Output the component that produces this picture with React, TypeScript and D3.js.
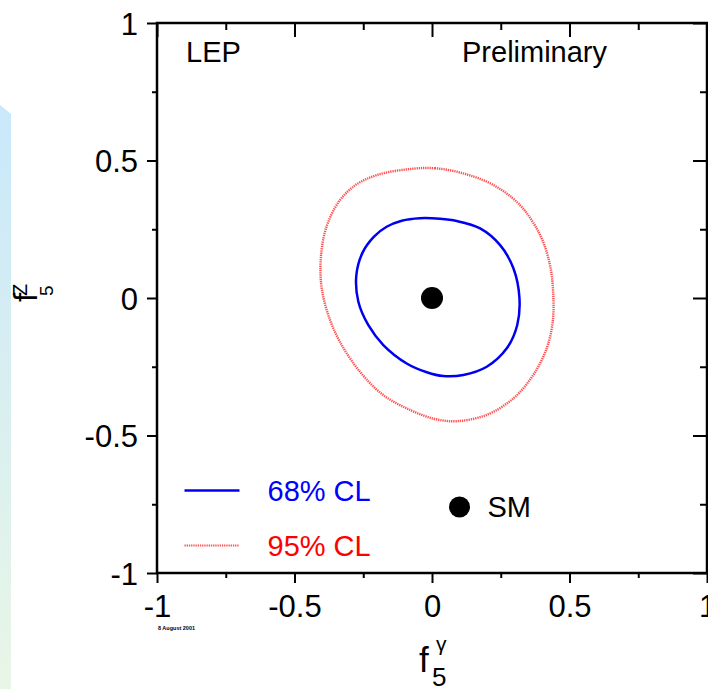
import React, { useEffect, useRef } from 'react';
import * as d3 from 'd3';

const W = 708;
const H = 689;

// axis ticks (same on both axes)
const majorTicks = [-1, -0.5, 0, 0.5, 1];
const tickLabels = ['-1', '-0.5', '0', '0.5', '1'];
const minorTicks = [-0.75, -0.25, 0.25, 0.75];

// 68% CL contour, [f5gamma, f5Z], clockwise from the top
const cl68 = [
  [-0.044, 0.29], [0.029, 0.288], [0.09, 0.28], [0.175, 0.253], [0.247, 0.193],
  [0.296, 0.108], [0.318, 0.0], [0.31, -0.098], [0.272, -0.183], [0.199, -0.25],
  [0.114, -0.28], [0.041, -0.284], [-0.019, -0.27], [-0.092, -0.238], [-0.177, -0.171],
  [-0.232, -0.098], [-0.268, -0.013], [-0.275, 0.084], [-0.252, 0.166], [-0.21, 0.224],
  [-0.165, 0.259], [-0.11, 0.281],
];

// 95% CL contour
const cl95 = [
  [-0.08, 0.469], [0.01, 0.472], [0.114, 0.453], [0.223, 0.411], [0.32, 0.338],
  [0.393, 0.229], [0.429, 0.12], [0.441, 0.011], [0.439, -0.086], [0.417, -0.183],
  [0.368, -0.28], [0.296, -0.365], [0.199, -0.425], [0.09, -0.448], [0.01, -0.44],
  [-0.08, -0.407], [-0.177, -0.353], [-0.262, -0.268], [-0.335, -0.159], [-0.377, -0.062],
  [-0.401, 0.035], [-0.405, 0.132], [-0.389, 0.241], [-0.347, 0.338], [-0.286, 0.405],
  [-0.201, 0.447],
];

const smPoint = [0, 0];
const legendDot = [0.1, -0.76];
const legendRows = [
  { label: '68% CL', y: -0.7, color: '#0000ff' },
  { label: '95% CL', y: -0.9, color: '#ff0000' },
];
const legendX = [-0.9, -0.7];

export default function App() {
  const ref = useRef<SVGSVGElement>(null);

  useEffect(() => {
    const svg = d3.select(ref.current);
    svg.selectAll('*').remove();
    const font = '"Liberation Sans", Arial, Helvetica, sans-serif';

    const x = d3.scaleLinear().domain([-1, 1]).range([157, 707]);
    const y = d3.scaleLinear().domain([-1, 1]).range([573, 23]);

    svg.append('rect').attr('width', W).attr('height', H).attr('fill', '#fff');

    // contours
    const line = d3.line<number[]>()
      .x(d => x(d[0]))
      .y(d => y(d[1]))
      .curve(d3.curveCatmullRomClosed.alpha(0.5));

    svg.append('path')
      .datum(cl95)
      .attr('d', line)
      .attr('fill', 'none')
      .attr('stroke', '#ff3030')
      .attr('stroke-width', 2.4)
      .attr('stroke-dasharray', '1.3 0.9')
      .attr('opacity', 0.85);

    svg.append('path')
      .datum(cl68)
      .attr('d', line)
      .attr('fill', 'none')
      .attr('stroke', '#0000f0')
      .attr('stroke-width', 2.5);

    // SM point
    svg.append('circle')
      .attr('cx', x(smPoint[0])).attr('cy', y(smPoint[1]))
      .attr('r', 11).attr('fill', '#000');

    // axes
    const styleAxis = (g: any, labels: boolean, size: number) => {
      g.select('.domain').remove();
      g.selectAll('.tick line').attr('stroke', '#000').attr('stroke-width', 2);
      g.attr('font-family', font).attr('font-size', size);
      if (labels) g.selectAll('.tick text').attr('fill', '#000');
    };

    svg.append('g')
      .attr('transform', 'translate(0,573)')
      .call(d3.axisBottom(x).tickValues(majorTicks).tickSize(10).tickPadding(12)
        .tickFormat((_, i) => tickLabels[i]))
      .call(g => styleAxis(g, true, 31));
    svg.append('g')
      .attr('transform', 'translate(0,573)')
      .call(d3.axisBottom(x).tickValues(minorTicks).tickSize(5).tickFormat(() => ''))
      .call(g => styleAxis(g, false, 31));

    svg.append('g')
      .attr('transform', 'translate(157,0)')
      .call(d3.axisLeft(y).tickValues(majorTicks).tickSize(10).tickPadding(9)
        .tickFormat((_, i) => tickLabels[i]))
      .call(g => styleAxis(g, true, 31))
      .call(g => g.selectAll('.tick text').attr('dy', '0.36em'));
    svg.append('g')
      .attr('transform', 'translate(157,0)')
      .call(d3.axisLeft(y).tickValues(minorTicks).tickSize(5).tickFormat(() => ''))
      .call(g => styleAxis(g, false, 31));

    // inside ticks on top and right
    svg.append('g')
      .attr('transform', 'translate(0,23)')
      .call(d3.axisTop(x).tickValues(majorTicks).tickSize(-14).tickFormat(() => ''))
      .call(g => styleAxis(g, false, 30));
    svg.append('g')
      .attr('transform', 'translate(0,23)')
      .call(d3.axisTop(x).tickValues(minorTicks).tickSize(-7).tickFormat(() => ''))
      .call(g => styleAxis(g, false, 30));
    svg.append('g')
      .attr('transform', 'translate(707,0)')
      .call(d3.axisRight(y).tickValues(majorTicks).tickSize(-14).tickFormat(() => ''))
      .call(g => styleAxis(g, false, 30));
    svg.append('g')
      .attr('transform', 'translate(707,0)')
      .call(d3.axisRight(y).tickValues(minorTicks).tickSize(-7).tickFormat(() => ''))
      .call(g => styleAxis(g, false, 30));

    // frame
    svg.append('rect')
      .attr('x', 157).attr('y', 23).attr('width', 550).attr('height', 550)
      .attr('fill', 'none').attr('stroke', '#000').attr('stroke-width', 2.5);

    // annotations
    svg.append('text').attr('x', 186).attr('y', 61.5)
      .attr('font-family', font).attr('font-size', 29).text('LEP');
    svg.append('text').attr('x', 462).attr('y', 61.5)
      .attr('font-family', font).attr('font-size', 29).text('Preliminary');

    // legend
    legendRows.forEach(r => {
      const red = r.color === '#ff0000';
      svg.append('line')
        .attr('x1', x(legendX[0])).attr('x2', x(legendX[1]))
        .attr('y1', y(r.y)).attr('y2', y(r.y))
        .attr('stroke', red ? '#ff3030' : '#0000f0')
        .attr('stroke-width', red ? 2.2 : 2.5)
        .attr('stroke-dasharray', red ? '1.3 0.9' : null)
        .attr('opacity', red ? 0.85 : 1);
      svg.append('text')
        .attr('x', x(legendX[1]) + 28).attr('y', y(r.y) + 10)
        .attr('font-family', font).attr('font-size', 29)
        .attr('fill', r.color).text(r.label);
    });
    svg.append('circle')
      .attr('cx', x(legendDot[0])).attr('cy', y(legendDot[1]))
      .attr('r', 10.5).attr('fill', '#000');
    svg.append('text')
      .attr('x', x(legendDot[0]) + 28).attr('y', y(legendDot[1]) + 10)
      .attr('font-family', font).attr('font-size', 29).text('SM');

    // axis titles
    const xt = svg.append('g').attr('font-family', font).attr('fill', '#000');
    xt.append('text').attr('x', 419).attr('y', 672).attr('font-size', 35).text('f');
    xt.append('text').attr('x', 436).attr('y', 651).attr('font-size', 21).text('γ');
    xt.append('text').attr('x', 432).attr('y', 686).attr('font-size', 26).text('5');

    const yt = svg.append('text').attr('font-family', font)
      .attr('transform', 'translate(37,302) rotate(-90)');
    yt.append('tspan').attr('font-size', 33).text('f');
    yt.append('tspan').attr('x', 6).attr('dy', -10).attr('font-size', 20).text('Z');
    yt.append('tspan').attr('x', 6).attr('dy', 26).attr('font-size', 19).text('5');

    // tiny date stamp
    svg.append('text').attr('x', 158).attr('y', 630)
      .attr('font-family', font).attr('font-size', 5.5).attr('font-weight', 'bold')
      .attr('textLength', 37).text('8 August 2001');

    // slide background strip on the left
    const defs = svg.append('defs');
    const grad = defs.append('linearGradient').attr('id', 'strip')
      .attr('x1', '0%').attr('x2', '0%').attr('y1', '0%').attr('y2', '100%');
    grad.append('stop').attr('offset', '0%').attr('stop-color', '#c9e8fb');
    grad.append('stop').attr('offset', '100%').attr('stop-color', '#e8f6e6');
    svg.append('path')
      .attr('d', 'M0,105 L11,114 L11,689 L0,689 Z')
      .attr('fill', 'url(#strip)');
  }, []);

  return (
    <svg
      ref={ref}
      width={W}
      height={H}
      viewBox={`0 0 ${W} ${H}`}
      style={{ position: 'absolute', left: 0, top: 0, display: 'block' }}
    />
  );
}
